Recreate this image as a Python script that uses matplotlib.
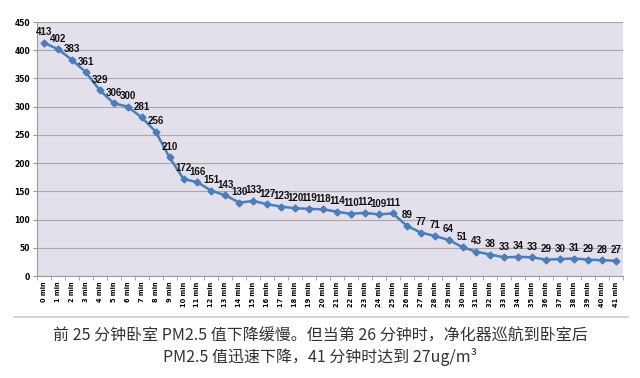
import matplotlib.pyplot as plt
import numpy as np

plt.rcParams['font.family'] = ['Noto Sans CJK SC', 'DejaVu Sans']

minutes = list(range(42))
labels = ['%d min' % m for m in minutes]
pm25 = [413, 402, 383, 361, 329, 306, 300, 281, 256, 210, 172, 166, 151, 143,
        130, 133, 127, 123, 120, 119, 118, 114, 110, 112, 109, 111, 89, 77,
        71, 64, 51, 43, 38, 33, 34, 33, 29, 30, 31, 29, 28, 27]
yticks = [0, 50, 100, 150, 200, 250, 300, 350, 400, 450]
caption = ['前 25 分钟卧室 PM2.5 值下降缓慢。但当第 26 分钟时，净化器巡航到卧室后',
           'PM2.5 值迅速下降，41 分钟时达到 27ug/m³']

fig = plt.figure(figsize=(6.4, 3.78), dpi=100)
ax = fig.add_axes([37 / 640, 1 - 276 / 378, 586 / 640, 254 / 378])
ax.set_facecolor('#e3e0ec')

ax.plot(minutes, pm25, color='#4a7ebb', lw=1.8, marker='D', ms=3.5,
        markerfacecolor='#4a7ebb', markeredgecolor='#4a7ebb', zorder=3)
for m, v in zip(minutes, pm25):
    ax.annotate(str(v), (m, v), xytext=(0, 4), textcoords='offset points',
                ha='center', va='bottom', fontsize=7, fontweight='bold',
                color='#111111', family='Liberation Sans')

ax.set_xlim(-0.5, 41.5)
ax.set_ylim(0, 450)
ax.set_yticks(yticks)
ax.set_yticklabels([str(t) for t in yticks], fontsize=5.5, fontweight='bold',
                   family='DejaVu Sans')
ax.set_xticks(minutes)
ax.set_xticklabels(labels, rotation=90, fontsize=4.8, fontweight='bold',
                   family='DejaVu Sans')
ax.set_xticks(np.arange(-0.5, 42, 1), minor=True)
ax.tick_params(axis='x', which='major', length=0, pad=4)
ax.tick_params(axis='x', which='minor', length=3, color='#999999')
ax.tick_params(axis='y', length=3, color='#999999', pad=2)
ax.grid(axis='y', color='#a8a8a8', lw=0.8)
ax.set_axisbelow(True)
for s in ['top', 'right']:
    ax.spines[s].set_visible(False)
for s in ['left', 'bottom']:
    ax.spines[s].set_color('#999999')
    ax.spines[s].set_linewidth(0.8)

fig.add_artist(plt.Line2D([14 / 640, 628 / 640], [1 - 317 / 378, 1 - 317 / 378],
                          color='#cccccc', lw=1.2))
fig.text(0.5, 1 - 336 / 378, caption[0], ha='center', va='center',
         fontsize=11.5, color='#333333')
fig.text(0.5, 1 - 357 / 378, caption[1], ha='center', va='center',
         fontsize=11.5, color='#333333')

fig.savefig('out.png', dpi=100)
